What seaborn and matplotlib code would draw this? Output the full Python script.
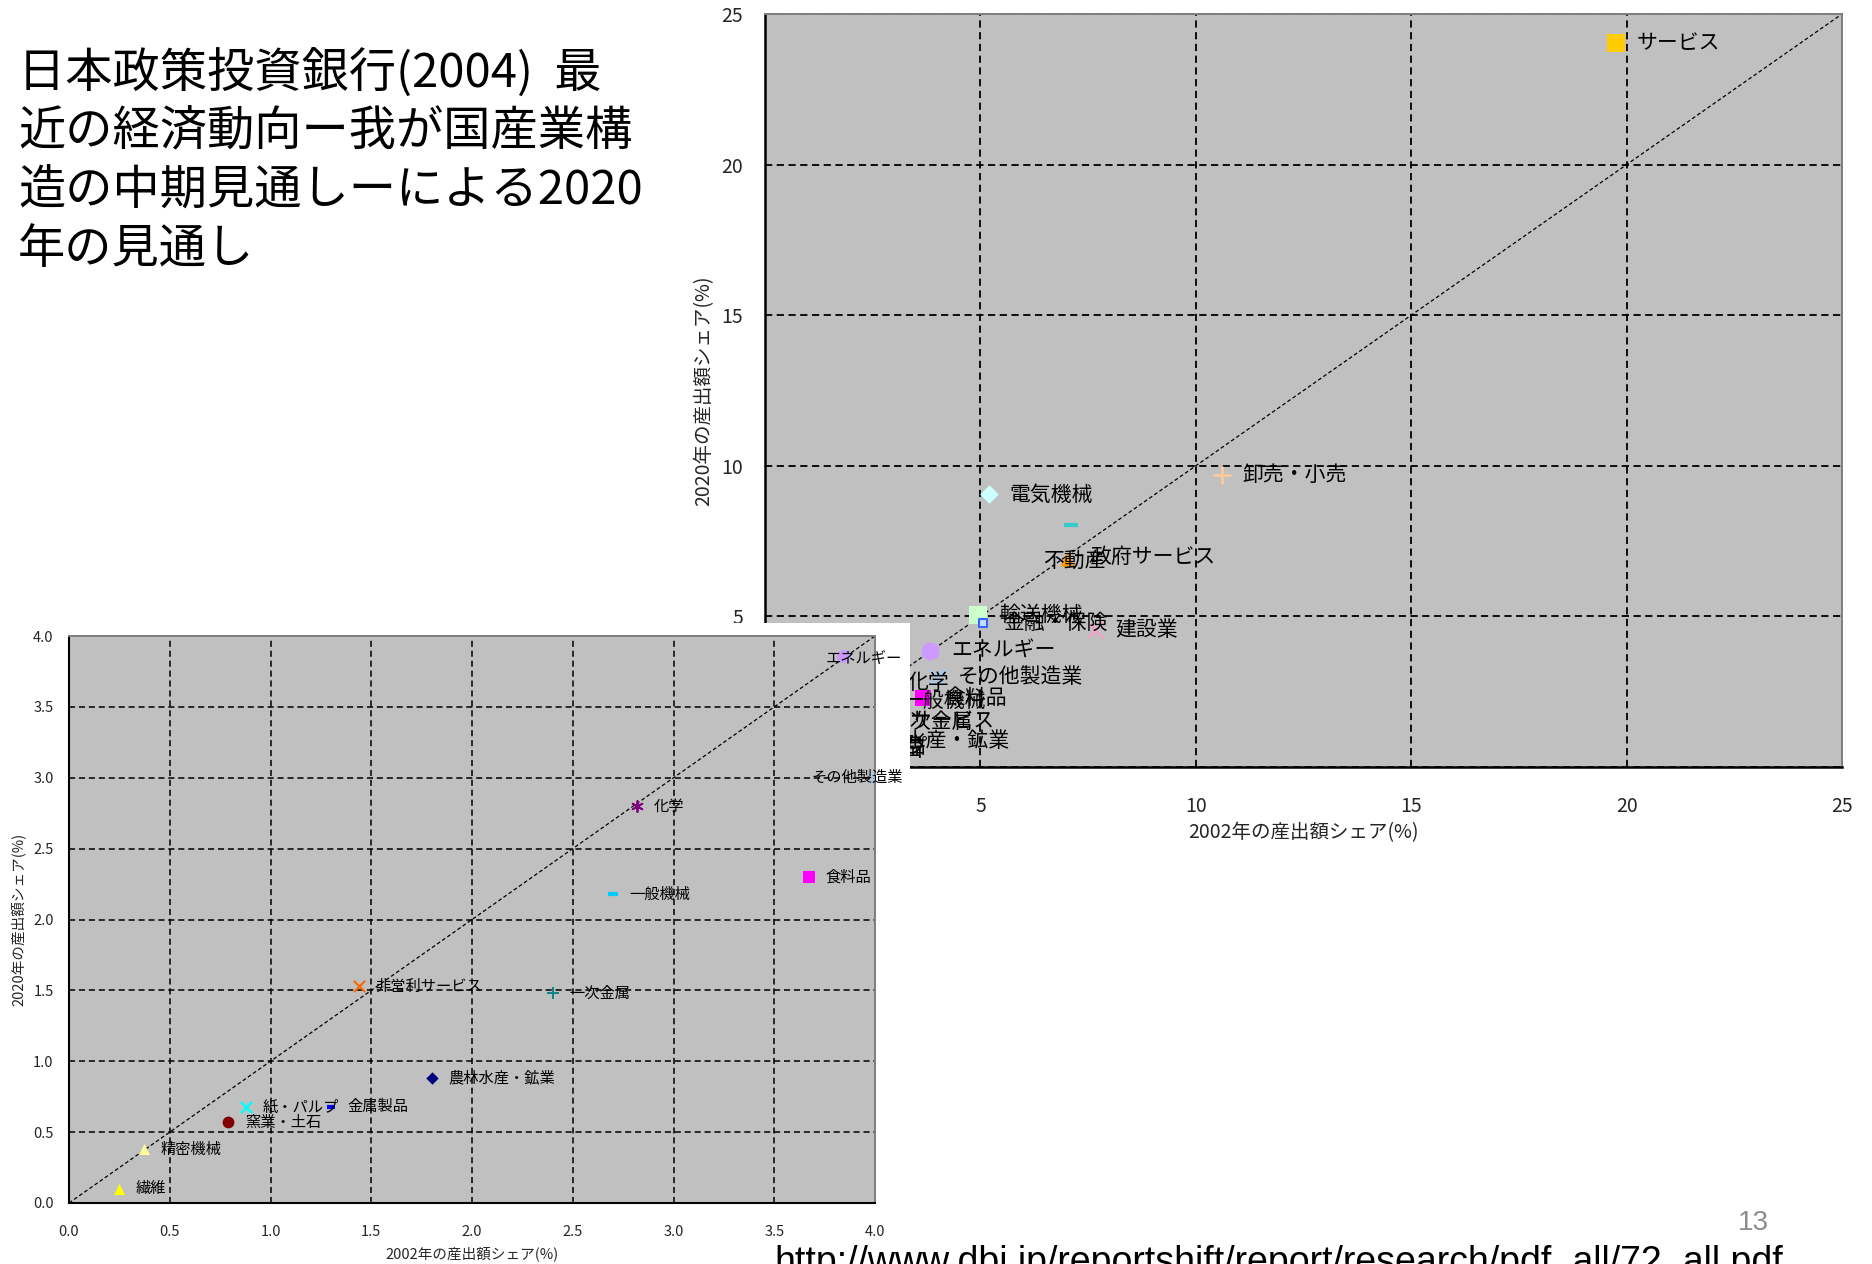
import matplotlib
matplotlib.use("Agg")
import matplotlib.pyplot as plt
from matplotlib.patches import Rectangle
import pandas as pd
import seaborn as sns

# Output shares by sector (%), 2002 actual vs 2020 outlook
sectors = [
    "サービス", "卸売・小売", "電気機械", "政府サービス", "不動産",
    "輸送機械", "金融・保険", "建設業", "エネルギー", "その他製造業",
    "化学", "食料品", "一般機械", "非営利サービス", "一次金属",
    "農林水産・鉱業", "紙・パルプ", "金属製品", "窯業・土石", "精密機械", "繊維",
]
share_2002 = [19.75, 10.6, 5.2, 7.1, 7.0,
              4.95, 5.05, 7.65, 3.84, 4.0,
              2.82, 3.67, 2.70, 1.44, 2.40,
              1.80, 0.88, 1.30, 0.79, 0.37, 0.25]
share_2020 = [24.05, 9.7, 9.05, 8.05, 6.9,
              5.05, 4.78, 4.55, 3.86, 3.0,
              2.80, 2.30, 2.18, 1.53, 1.48,
              0.88, 0.68, 0.68, 0.57, 0.38, 0.10]

main_ticks = [0, 5, 10, 15, 20, 25]
inset_ticks = [0.0, 0.5, 1.0, 1.5, 2.0, 2.5, 3.0, 3.5, 4.0]

title_lines = [
    "日本政策投資銀行(2004)  最",
    "近の経済動向ー我が国産業構",
    "造の中期見通しーによる2020",
    "年の見通し",
]
x_label = "2002年の産出額シェア(%)"
y_label = "2020年の産出額シェア(%)"
page_no = "13"
source_url = "http://www.dbj.jp/reportshift/report/research/pdf_all/72_all.pdf"

df = pd.DataFrame({"sector": sectors, "x": share_2002, "y": share_2020})

# marker, face colour, edge colour, size scale, line width
styles = {
    "サービス": ("s", "#FFCC00", "#FFCC00", 1.0, 0),
    "卸売・小売": ("+", "#FFCC99", "#FFCC99", 1.0, 1.8),
    "電気機械": ("D", "#CCFFFF", "#CCFFFF", 0.6, 0),
    "政府サービス": ("_", "#33CCCC", "#33CCCC", 0.6, 3.0),
    "不動産": ("^", "#FF9900", "#FF9900", 0.7, 0),
    "輸送機械": ("s", "#CCFFCC", "#CCFFCC", 1.0, 0),
    "金融・保険": ("s", "#C8DCFF", "#3366FF", 0.25, 1.5),
    "建設業": ("x", "#FF99CC", "#FF99CC", 0.8, 1.5),
    "エネルギー": ("o", "#CC99FF", "#CC99FF", 1.1, 0),
    "その他製造業": ("x", "#99CCFF", "#99CCFF", 0.8, 1.5),
    "化学": ((6, 2, 0), "#800080", "#800080", 0.8, 1.3),
    "食料品": ("s", "#FF00FF", "#FF00FF", 0.9, 0),
    "一般機械": ("_", "#00CCFF", "#00CCFF", 0.7, 3.0),
    "非営利サービス": ("x", "#FF6600", "#FF6600", 0.8, 1.5),
    "一次金属": ("+", "#008080", "#008080", 0.8, 1.3),
    "農林水産・鉱業": ("D", "#000080", "#000080", 0.5, 0),
    "紙・パルプ": ("x", "#00FFFF", "#00FFFF", 0.8, 1.8),
    "金属製品": ("_", "#0000FF", "#0000FF", 0.4, 3.0),
    "窯業・土石": ("o", "#800000", "#800000", 0.9, 0),
    "精密機械": ("^", "#FFFF99", "#FFFF99", 0.8, 0),
    "繊維": ("^", "#FFFF00", "#FFFF00", 0.8, 0),
}

# label offsets in points (dx, dy, ha); default is to the right of the marker
main_label_pos = {
    "不動産": (-17, -1.5, "left"),
    "政府サービス": (14, -23, "left"),
}
inset_label_pos = {
    "エネルギー": (-12, -1, "left"),
    "その他製造業": (20, 0, "right"),
}

sns.set_theme(style="white")
plt.rcParams["font.family"] = ["Noto Sans CJK JP", "DejaVu Sans"]
plt.rcParams["axes.unicode_minus"] = False

W, H = 1872, 1264
fig = plt.figure(figsize=(W / 100, H / 100), dpi=100)
fig.patch.set_facecolor("white")

GRID_LS = (0, (4, 2.5))


def style_axes(ax, lim, ticks, tick_fs, lw_axis, pad_x, pad_y, grid_lw):
    ax.set_facecolor("#C0C0C0")
    ax.set_xlim(0, lim)
    ax.set_ylim(0, lim)
    ax.set_xticks(ticks)
    ax.set_yticks(ticks)
    ax.grid(True, color="black", linestyle=GRID_LS, linewidth=grid_lw)
    ax.set_axisbelow(True)
    ax.tick_params(axis="x", length=0, labelsize=tick_fs, pad=pad_x)
    ax.tick_params(axis="y", length=0, labelsize=tick_fs, pad=pad_y)
    for side in ("left", "bottom"):
        ax.spines[side].set_color("black")
        ax.spines[side].set_linewidth(lw_axis)
    for side in ("top", "right"):
        ax.spines[side].set_color("#7F7F7F")
        ax.spines[side].set_linewidth(1.4)
    ax.axline((0, 0), slope=1, color="black", linestyle=(0, (3, 2)),
              linewidth=0.9, zorder=2)


def draw_points(ax, data, base_size, label_fs, offset, overrides):
    for _, row in data.iterrows():
        marker, face, edge, scale, lw = styles[row["sector"]]
        kws = dict(marker=marker, s=base_size * scale, zorder=3, legend=False)
        if lw:
            kws.update(facecolor=face, edgecolor=edge, linewidth=lw)
        else:
            kws.update(color=face, edgecolor=face, linewidth=0)
        sns.scatterplot(x=[row["x"]], y=[row["y"]], ax=ax, **kws)
        dx, dy, ha = overrides.get(row["sector"], (offset, 0, "left"))
        ax.annotate(row["sector"], (row["x"], row["y"]), xytext=(dx, dy),
                    textcoords="offset points", ha=ha, va="center",
                    fontsize=label_fs, color="black", zorder=4)


# ---- main chart (0-25 %) ----
ax = fig.add_axes([765 / W, 1 - 767 / H, 1077 / W, 753 / H])
style_axes(ax, 25, main_ticks, 14, 1.8, 21, 16, 1.3)
draw_points(ax, df, 150, 15, 15, main_label_pos)
ax.set_xlabel(x_label, fontsize=14, va="center")
ax.set_ylabel(y_label, fontsize=14, va="center")
ax.xaxis.set_label_coords(0.5, -0.0876)
ax.yaxis.set_label_coords(-0.0566, 0.5)

# white panel behind the enlarged view
fig.add_artist(Rectangle((0, 0), 910 / W, (H - 623) / H, transform=fig.transFigure,
                         facecolor="white", edgecolor="none", zorder=1))

# ---- enlarged view (0-4 %) ----
small = df[(df["x"] <= 4.0) & (df["y"] <= 4.0)]
ax2 = fig.add_axes([69 / W, 1 - 1203 / H, 806 / W, 567 / H])
ax2.set_zorder(2)
style_axes(ax2, 4.0, inset_ticks, 10.5, 1.5, 16, 11, 1.1)
ax2.set_xticklabels([f"{t:.1f}" for t in inset_ticks])
ax2.set_yticklabels([f"{t:.1f}" for t in inset_ticks])
draw_points(ax2, small, 80, 11, 12, inset_label_pos)
ax2.set_xlabel(x_label, fontsize=10.5, va="center")
ax2.set_ylabel(y_label, fontsize=10.5, va="center")
ax2.xaxis.set_label_coords(0.5, -0.090)
ax2.yaxis.set_label_coords(-0.0633, 0.5)

# ---- slide text ----
for i, line in enumerate(title_lines):
    fig.text(18 / W, 1 - (74 + 58.5 * i) / H, line, fontsize=34,
             ha="left", va="center", color="black")

fig.text(1753 / W, 1 - 1223 / H, page_no, fontsize=20, color="#8C8C8C",
         ha="center", va="center", family=["Liberation Sans", "DejaVu Sans"])
fig.text(774 / W, 1 - 1273 / H, source_url, fontsize=27, color="black",
         ha="left", va="baseline", family=["Liberation Sans", "DejaVu Sans"])

fig.savefig("out.png", dpi=100)
